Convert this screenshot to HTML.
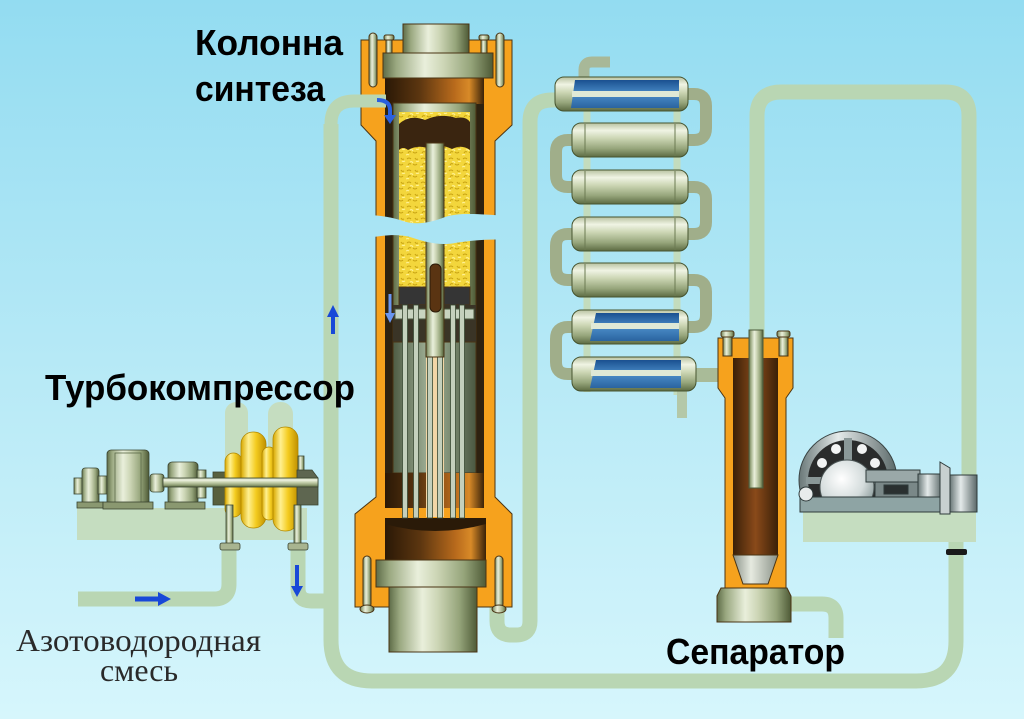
<!DOCTYPE html>
<html><head><meta charset="utf-8"><style>
html,body{margin:0;padding:0;width:1024px;height:719px;overflow:hidden;background:#b6e9f6;}
svg{display:block}
</style></head><body>
<svg width="1024" height="719" viewBox="0 0 1024 719" xmlns="http://www.w3.org/2000/svg">
<defs>
<linearGradient id="bg" gradientUnits="userSpaceOnUse" x1="0" y1="0" x2="0" y2="719">
 <stop offset="0" stop-color="#93dcf1"/>
 <stop offset="0.5" stop-color="#b6e9f6"/>
 <stop offset="1" stop-color="#d6f6fc"/>
</linearGradient>
<linearGradient id="mV" x1="0" x2="1" y1="0" y2="0">
 <stop offset="0" stop-color="#5e6c48"/>
 <stop offset="0.12" stop-color="#9aa880"/>
 <stop offset="0.38" stop-color="#e9efdb"/>
 <stop offset="0.55" stop-color="#cdd6b6"/>
 <stop offset="0.8" stop-color="#95a47a"/>
 <stop offset="1" stop-color="#4e5a36"/>
</linearGradient>
<linearGradient id="mH" x1="0" x2="0" y1="0" y2="1">
 <stop offset="0" stop-color="#b8c2a0"/>
 <stop offset="0.22" stop-color="#f0f4e4"/>
 <stop offset="0.45" stop-color="#ccd6b4"/>
 <stop offset="0.75" stop-color="#97a67c"/>
 <stop offset="1" stop-color="#5c6a42"/>
</linearGradient>
<linearGradient id="mD" x1="0" x2="1" y1="0" y2="0">
 <stop offset="0" stop-color="#4e5c44"/>
 <stop offset="0.45" stop-color="#a4b49a"/>
 <stop offset="1" stop-color="#4a5840"/>
</linearGradient>
<linearGradient id="brown" x1="0" x2="1" y1="0" y2="0">
 <stop offset="0" stop-color="#2a1806"/>
 <stop offset="0.35" stop-color="#5c3610"/>
 <stop offset="0.7" stop-color="#b86a1c"/>
 <stop offset="0.85" stop-color="#d88a28"/>
 <stop offset="1" stop-color="#3a2208"/>
</linearGradient>
<linearGradient id="brownSep" x1="0" x2="1" y1="0" y2="0">
 <stop offset="0" stop-color="#3a2008"/>
 <stop offset="0.5" stop-color="#8a4a1a"/>
 <stop offset="1" stop-color="#3a2008"/>
</linearGradient>
<linearGradient id="blue" x1="0" x2="0" y1="0" y2="1">
 <stop offset="0" stop-color="#1a5090"/>
 <stop offset="0.5" stop-color="#4a8cc8"/>
 <stop offset="1" stop-color="#2a64a0"/>
</linearGradient>
<linearGradient id="yel" x1="0" x2="1" y1="0" y2="0">
 <stop offset="0" stop-color="#d8a800"/>
 <stop offset="0.3" stop-color="#fff090"/>
 <stop offset="0.6" stop-color="#f4cc20"/>
 <stop offset="1" stop-color="#c09000"/>
</linearGradient>
<linearGradient id="pV" x1="0" x2="1" y1="0" y2="0">
 <stop offset="0" stop-color="#6a7878"/>
 <stop offset="0.4" stop-color="#e4eaea"/>
 <stop offset="1" stop-color="#5a6868"/>
</linearGradient>
<linearGradient id="cone" x1="0" x2="1" y1="0" y2="0">
 <stop offset="0" stop-color="#8a9288"/>
 <stop offset="0.4" stop-color="#e6eae0"/>
 <stop offset="1" stop-color="#8a9288"/>
</linearGradient>
<radialGradient id="imp" cx="0.4" cy="0.35" r="0.7">
 <stop offset="0" stop-color="#ffffff"/>
 <stop offset="0.6" stop-color="#d4dcdc"/>
 <stop offset="1" stop-color="#8a9a9a"/>
</radialGradient>
<pattern id="cat" width="14" height="12" patternUnits="userSpaceOnUse">
 <rect width="14" height="12" fill="#f3d63c"/>
 <path d="M1,3 q2,-2 4,0 M7,8 q2,2 4,0 M9,2 q1,2 3,1 M2,9 q1,-2 3,-1" stroke="#c9a412" stroke-width="1" fill="none"/>
 <path d="M4,6 q2,-1 3,1 M10,5 q1,1 3,0 M0,11 q2,-1 3,0" stroke="#fff29a" stroke-width="1" fill="none"/>
</pattern>
<clipPath id="wclip"><rect x="790" y="420" width="120" height="77"/></clipPath>
</defs>

<rect width="1024" height="719" fill="url(#bg)"/>

<!-- pale compressor pillars & platforms -->
<g fill="#c5ddc0">
 <rect x="225" y="402" width="23" height="120" rx="11"/>
 <rect x="268" y="402" width="25" height="120" rx="12"/>
 <rect x="77" y="508" width="230" height="32"/>
</g>

<!-- pipes -->
<g fill="none" stroke="#b9d6b3" stroke-width="15" stroke-linejoin="round">
 <path d="M78,599 H214 Q229,599 229,584 V548"/>
 <path d="M298,548 V588 Q298,601 311,601 H331"/>
 <path d="M757,345 V116 Q757,92 781,92 H945 Q969,92 969,116 V490"/>
 <path d="M497,600 V621 Q497,635 511,635 H516 Q530,635 530,621 V122 Q530,100 552,100 H560"/>
 <path d="M790,604 H822 Q836,604 836,618 V638"/>
 <path d="M331,124 V640 Q331,681 372,681 H916 Q956,681 956,641 V540"/>
</g>
<g fill="none" stroke="#c3dcbd" stroke-width="7">
 <path d="M587,108 V392"/>
 <path d="M677,108 V395"/>
</g>
<rect x="677" y="390" width="10" height="28" fill="#b4c8a8"/>
<path d="M690,375 H722" stroke="#a9bb98" stroke-width="14" fill="none"/>
<path d="M584,80 V70 Q584,62 592,62 H610" stroke="#a8b898" stroke-width="11" fill="none"/>

<!-- turbocompressor -->
<g stroke="#3a4430" stroke-width="0.8">
 <rect x="74" y="478" width="9" height="16" fill="url(#mV)"/>
 <rect x="82" y="468" width="17" height="37" rx="3" fill="url(#mV)"/>
 <rect x="98" y="476" width="9" height="18" fill="url(#mV)"/>
 <rect x="77" y="502" width="26" height="6" fill="#8a9870"/>
 <rect x="107" y="450" width="42" height="56" rx="4" fill="url(#mV)"/>
 <rect x="115" y="453" width="26" height="50" fill="none" stroke="#5a6846"/>
 <rect x="103" y="502" width="50" height="7" fill="#8a9870"/>
 <rect x="150" y="474" width="14" height="18" rx="3" fill="url(#mV)"/>
 <rect x="168" y="462" width="30" height="43" rx="4" fill="url(#mV)"/>
 <rect x="197" y="470" width="9" height="28" fill="url(#mV)"/>
 <rect x="165" y="502" width="40" height="7" fill="#8a9870"/>
 <rect x="213" y="472" width="14" height="33" fill="#58603e"/>
 <rect x="225" y="453" width="17" height="64" rx="8.5" fill="url(#yel)" stroke="#b08800"/>
 <rect x="241" y="432" width="25" height="96" rx="12" fill="url(#yel)" stroke="#b08800"/>
 <rect x="262" y="447" width="14" height="73" rx="7" fill="url(#yel)" stroke="#b08800"/>
 <rect x="273" y="427" width="25" height="104" rx="12" fill="url(#yel)" stroke="#b08800"/>
 <rect x="298" y="456" width="6" height="20" fill="url(#mV)"/>
 <path d="M297,470 H312 L318,478 V505 H297 Z" fill="#5e6650"/>
 <rect x="163" y="478" width="155" height="9" fill="url(#mH)"/>
 <rect x="226" y="505" width="7" height="40" fill="url(#mV)"/>
 <rect x="220" y="543" width="20" height="7" rx="2" fill="#a8b490"/>
 <rect x="294" y="505" width="7" height="40" fill="url(#mV)"/>
 <rect x="288" y="543" width="20" height="7" rx="2" fill="#a8b490"/>
</g>

<!-- synthesis column -->
<g stroke="#4a3414" stroke-width="1">
 <path d="M361,40 H512 V125 L495,141 V497 L512,514 V607 H355 V514 L376,497 V141 L361,125 Z" fill="#f6a21d"/>
 <rect x="385" y="78" width="99" height="430" fill="#2e2210" stroke="none"/>
 <rect x="385" y="78" width="99" height="26" fill="url(#brown)" stroke="none"/>
 <rect x="393" y="103" width="83" height="370" fill="url(#mV)"/>
 <rect x="399" y="112" width="71" height="175" fill="url(#cat)" stroke="none"/>
 <path d="M399,150 V124 Q410,114 425,120 Q440,113 456,118 Q466,116 470,122 V150 Q462,144 452,149 Q440,143 430,149 Q418,144 408,150 Q403,146 399,150 Z" fill="#3a2510" stroke="none"/>
 <rect x="399" y="287" width="71" height="18" fill="#353535"/>
 <rect x="393" y="305" width="83" height="37" fill="#3a3426" stroke="none"/>
 <rect x="393" y="342" width="83" height="131" fill="url(#mD)"/>
 <rect x="385" y="473" width="99" height="35" fill="url(#brown)" stroke="none"/>
 <rect x="395" y="309" width="79" height="10" fill="#c8d4c0" stroke="#4a5a40"/>
 <rect x="426" y="357" width="18" height="160" fill="#f2d6a6" stroke="none"/>
 <path d="M385,518 H486 V560 H385 Z" fill="url(#brown)" stroke="none"/>
 <path d="M385,518 H486 V524 Q435,538 385,524 Z" fill="#2a1a08" stroke="none"/>
 <g fill="#c4d0bc" stroke="#3a4a34" stroke-width="0.8">
  <rect x="402.5" y="305" width="5" height="213"/>
  <rect x="413.5" y="305" width="5" height="213"/>
  <rect x="427.5" y="305" width="5" height="213"/>
  <rect x="437.5" y="305" width="5" height="213"/>
  <rect x="450.5" y="305" width="5" height="213"/>
  <rect x="459.5" y="305" width="5" height="213"/>
 </g>
 <rect x="426" y="143" width="18" height="214" fill="url(#mV)"/>
 <rect x="430" y="264" width="11" height="48" rx="5" fill="#5a3412" stroke="#2a1a08"/>
 <!-- flanges -->
 <rect x="403" y="24" width="66" height="29" fill="url(#mV)"/>
 <rect x="383" y="53" width="110" height="25" fill="url(#mV)"/>
 <rect x="369" y="33" width="8" height="54" rx="4" fill="url(#mV)"/>
 <rect x="496" y="33" width="8" height="54" rx="4" fill="url(#mV)"/>
 <rect x="386" y="38" width="6" height="15" fill="url(#mV)"/>
 <rect x="384" y="35" width="10" height="5" rx="2" fill="url(#mV)"/>
 <rect x="481" y="38" width="6" height="15" fill="url(#mV)"/>
 <rect x="479" y="35" width="10" height="5" rx="2" fill="url(#mV)"/>
 <rect x="376" y="560" width="110" height="27" fill="url(#mV)"/>
 <rect x="389" y="587" width="88" height="65" fill="url(#mV)"/>
 <rect x="363" y="556" width="8" height="52" rx="4" fill="url(#mV)"/>
 <ellipse cx="367" cy="609" rx="7" ry="4" fill="url(#mV)"/>
 <rect x="495" y="556" width="8" height="52" rx="4" fill="url(#mV)"/>
 <ellipse cx="499" cy="609" rx="7" ry="4" fill="url(#mV)"/>
</g>

<!-- break gap -->
<path d="M348,216 C365,214 385,215 400,220 C415,226 430,223 445,217 C460,212 480,214 522,217 L522,241 C495,238 475,240 455,243 C440,246 425,242 410,237 C395,233 375,236 348,242 Z" fill="url(#bg)"/>

<!-- entry pipe into column top -->
<path d="M331,130 V124 Q331,101 354,101 H386" stroke="#b9d6b3" stroke-width="13" fill="none"/>

<!-- arrows -->
<g fill="none" stroke-linecap="butt">
 <path d="M377,100 Q390,100 390,110 V117" stroke="#2a60e0" stroke-width="4"/>
 <line x1="390" y1="294" x2="390" y2="315" stroke="#6a96f0" stroke-width="3"/>
 <line x1="333" y1="314" x2="333" y2="334" stroke="#1848d8" stroke-width="4"/>
 <line x1="297" y1="565" x2="297" y2="588" stroke="#1848d8" stroke-width="4"/>
 <line x1="135" y1="599" x2="160" y2="599" stroke="#1848d8" stroke-width="5"/>
</g>
<polygon points="384,115 396,115 390,124" fill="#2a60e0"/>
<polygon points="385,313 395,313 390,323" fill="#6a96f0"/>
<polygon points="327,317 339,317 333,305" fill="#1848d8"/>
<polygon points="291,586 303,586 297,597" fill="#1848d8"/>
<polygon points="158,592 158,606 171,599" fill="#1848d8"/>

<!-- cooler bends -->
<g fill="none" stroke="#a0ae8a" stroke-width="12">
 <path d="M684,94 H694 Q706,94 706,106 V128 Q706,140 694,140 H684"/>
 <path d="M684,187 H694 Q706,187 706,199 V222 Q706,234 694,234 H684"/>
 <path d="M684,280 H694 Q706,280 706,292 V315 Q706,327 694,327 H684"/>
 <path d="M576,140 H568 Q556,140 556,152 V175 Q556,187 568,187 H576"/>
 <path d="M576,234 H568 Q556,234 556,246 V268 Q556,280 568,280 H576"/>
 <path d="M576,327 H568 Q556,327 556,339 V362 Q556,374 568,374 H576"/>
</g>

<!-- coolers -->
<g stroke="#46542f" stroke-width="1">
 <rect x="555" y="77" width="133" height="34" rx="9" fill="url(#mH)"/>
 <rect x="572" y="123" width="116" height="34" rx="9" fill="url(#mH)"/>
 <rect x="572" y="170" width="116" height="34" rx="9" fill="url(#mH)"/>
 <rect x="572" y="217" width="116" height="34" rx="9" fill="url(#mH)"/>
 <rect x="572" y="263" width="116" height="34" rx="9" fill="url(#mH)"/>
 <rect x="572" y="310" width="116" height="34" rx="9" fill="url(#mH)"/>
 <rect x="572" y="357" width="124" height="34" rx="9" fill="url(#mH)"/>
</g>
<g stroke="#6b7a52" stroke-width="1">
 <line x1="585" y1="124" x2="585" y2="156"/><line x1="675" y1="124" x2="675" y2="156"/>
 <line x1="585" y1="171" x2="585" y2="203"/><line x1="675" y1="171" x2="675" y2="203"/>
 <line x1="585" y1="218" x2="585" y2="250"/><line x1="675" y1="218" x2="675" y2="250"/>
 <line x1="585" y1="264" x2="585" y2="296"/><line x1="675" y1="264" x2="675" y2="296"/>
</g>
<path d="M575,80 H679 V108 H571 Z" fill="url(#blue)"/>
<rect x="572" y="91" width="107" height="6" fill="#dfe9d6"/>
<path d="M596,313 H679 V341 H590 Z" fill="url(#blue)"/>
<rect x="591" y="323" width="88" height="6" fill="#dfe9d6"/>
<path d="M596,360 H681 V388 H590 Z" fill="url(#blue)"/>
<rect x="591" y="370" width="90" height="6" fill="#dfe9d6"/>

<!-- separator -->
<g stroke="#4a3414" stroke-width="1">
 <path d="M718,338 H793 V388 L786,398 V590 H725 V398 L718,388 Z" fill="#f6a21d"/>
 <rect x="733" y="358" width="45" height="197" fill="url(#brownSep)" stroke="none"/>
 <path d="M733,555 H778 L768,584 H743 Z" fill="url(#cone)"/>
 <rect x="749" y="330" width="14" height="158" fill="url(#mV)" stroke="#4a5a3a"/>
 <rect x="723" y="334" width="9" height="22" fill="url(#mV)"/>
 <rect x="721" y="331" width="13" height="6" rx="2" fill="url(#mV)"/>
 <rect x="779" y="334" width="9" height="22" fill="url(#mV)"/>
 <rect x="777" y="331" width="13" height="6" rx="2" fill="url(#mV)"/>
 <path d="M721,588 H787 L791,596 V622 H717 V596 Z" fill="url(#mV)"/>
</g>

<!-- circulation pump -->
<rect x="803" y="512" width="173" height="30" fill="#c5ddc0"/>
<g clip-path="url(#wclip)">
 <circle cx="848" cy="480" r="49" fill="url(#pV)" stroke="#3a4444"/>
 <circle cx="848" cy="480" r="40" fill="#2a2c2c"/>
 <rect x="844" y="438" width="8" height="45" fill="#8a9898"/>
 <rect x="806" y="477" width="84" height="7" fill="#8a9898"/>
 <g fill="#f2f4f4">
  <circle cx="836" cy="449" r="5"/><circle cx="862" cy="449" r="5"/>
  <circle cx="822" cy="463" r="5"/><circle cx="875" cy="463" r="5"/>
 </g>
 <circle cx="847" cy="487" r="27" fill="url(#imp)" stroke="#4a5454"/>
</g>
<g stroke="#2e3a3a" stroke-width="1">
 <rect x="866" y="470" width="54" height="12" fill="#9aa8a8"/>
 <rect x="875" y="482" width="45" height="15" fill="#7a8888"/>
 <rect x="884" y="485" width="24" height="9" fill="#2a3030"/>
 <rect x="918" y="474" width="24" height="23" fill="url(#pV)"/>
 <rect x="800" y="497" width="142" height="15" fill="#8ea4a4"/>
 <polygon points="940,462 950,468 950,514 940,514" fill="#c8d0d0"/>
 <rect x="950" y="475" width="27" height="37" fill="url(#pV)"/>
 <circle cx="806" cy="494" r="7" fill="#e8ecec"/>
</g>
<rect x="946" y="549" width="21" height="6" rx="2" fill="#1a1a1a"/>

<!-- labels -->
<g font-family="'Liberation Sans', 'DejaVu Sans', sans-serif" font-weight="bold" font-size="36" fill="#000">
 <text x="195" y="55" textLength="148" lengthAdjust="spacingAndGlyphs">Колонна</text>
 <text x="195" y="101" textLength="130" lengthAdjust="spacingAndGlyphs">синтеза</text>
 <text x="45" y="400" textLength="310" lengthAdjust="spacingAndGlyphs">Турбокомпрессор</text>
 <text x="666" y="664" textLength="179" lengthAdjust="spacingAndGlyphs">Сепаратор</text>
</g>
<g font-family="'Liberation Serif', 'DejaVu Serif', serif" font-size="32" fill="#2a2a2a">
 <text x="16" y="651" textLength="245" lengthAdjust="spacingAndGlyphs">Азотоводородная</text>
 <text x="100" y="681" textLength="78" lengthAdjust="spacingAndGlyphs">смесь</text>
</g>
</svg>
</body></html>
